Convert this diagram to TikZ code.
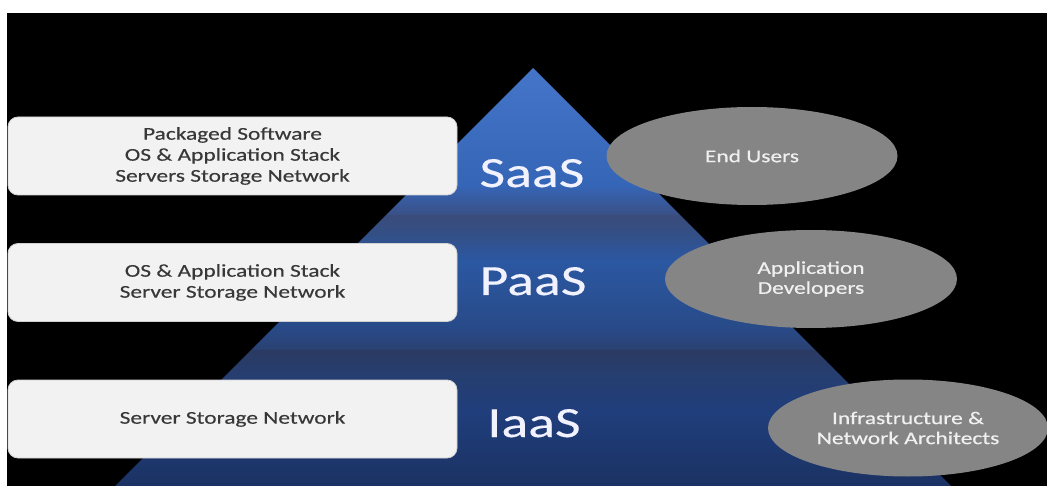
\documentclass[tikz,border=0pt]{standalone}
\usepackage{fontspec}
\usetikzlibrary{shapes.geometric}
\newfontfamily\calfont{Carlito}[FakeStretch=1.3]
\newfontfamily\calfontb{Carlito}[FakeStretch=1.3,FakeBold=0.6]
\newfontfamily\calfontm{Carlito}[FakeStretch=1.3,FakeBold=0.3]
\definecolor{ta}{HTML}{4575C9}
\definecolor{tb}{HTML}{3565B6}
\definecolor{tc}{HTML}{3A5086}
\definecolor{ma}{HTML}{3A4C7A}
\definecolor{mb}{HTML}{334F86}
\definecolor{mc}{HTML}{2B58A2}
\definecolor{md}{HTML}{284A88}
\definecolor{me}{HTML}{2B4172}
\definecolor{ba}{HTML}{2B3A62}
\definecolor{bb}{HTML}{263E70}
\definecolor{bc}{HTML}{203E7C}
\definecolor{bd}{HTML}{1B3263}
\definecolor{boxfill}{HTML}{F2F2F2}
\definecolor{boxtext}{HTML}{383838}
\definecolor{ellfill}{HTML}{858585}
\pgfdeclareverticalshading{toplayer}{100bp}{color(0bp)=(tc); color(25bp)=(tc); color(35bp)=(tb); color(75bp)=(ta); color(100bp)=(ta)}
\pgfdeclareverticalshading{midlayer}{100bp}{color(0bp)=(me); color(25bp)=(me); color(33bp)=(md); color(58bp)=(mc); color(68bp)=(mb); color(75bp)=(ma); color(100bp)=(ma)}
\pgfdeclareverticalshading{botlayer}{100bp}{color(0bp)=(bd); color(25bp)=(bd); color(52bp)=(bc); color(66bp)=(bb); color(75bp)=(ba); color(100bp)=(ba)}
\tikzset{
  stackbox/.style={draw=black!18, line width=0.8pt, fill=boxfill, rounded corners=10pt,
    minimum width=449pt, minimum height=78pt, inner sep=0pt, align=center,
    text=boxtext, font=\calfontm\fontsize{18}{21}\selectfont},
  userell/.style={ellipse, fill=ellfill, inner sep=0pt, align=center,
    text=white!94!black, font=\calfontb\fontsize{18}{20}\selectfont},
  layerlabel/.style={anchor=base, inner sep=0pt, text=white!95!blue,
    font=\calfontm\fontsize{43}{43}\selectfont}
}
\begin{document}
\begin{tikzpicture}[x=1pt,y=-1pt]
\useasboundingbox (0,0) rectangle (1047,486);
\fill[white] (0,0) rectangle (1047,486);
\fill[black] (7,13) rectangle (1047,486);
% pyramid layers
\shade[shading=toplayer] (533,68) -- (680,215) -- (386,215) -- cycle;
\shade[shading=midlayer] (386,215) -- (680,215) -- (815,350) -- (251,350) -- cycle;
\shade[shading=botlayer] (251,350) -- (815,350) -- (951,486) -- (115,486) -- cycle;
% boxes
\node[stackbox] (b1) at (232.5,156) {Packaged Software\\OS \& Application Stack\\Servers Storage Network};
\node[stackbox] (b2) at (232.5,282.5) {OS \& Application Stack\\Server Storage Network};
\node[stackbox] (b3) at (232.5,419) {Server Storage Network};
% labels
\node[layerlabel] (saas) at (532,187) {SaaS};
\node[layerlabel] (paas) at (533,295) {PaaS};
\node[layerlabel] (iaas) at (534,437) {IaaS};
% ellipses
\node[userell, minimum width=291pt, minimum height=98pt] (e1) at (752,156) {End Users};
\node[userell, minimum width=292pt, minimum height=98pt] (e2) at (811,279) {Application\\Developers};
\node[userell, minimum width=280pt, minimum height=97pt] (e3) at (908,428) {Infrastructure \&\\Network Architects};
\end{tikzpicture}
\end{document}
